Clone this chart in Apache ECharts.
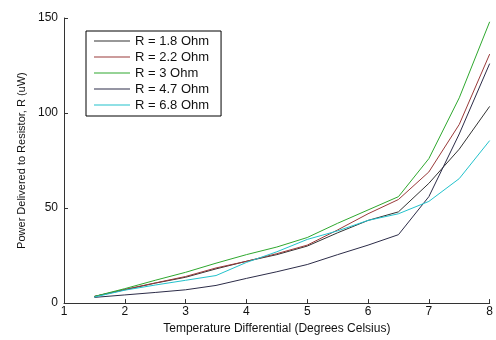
<!DOCTYPE html>
<html>
<head>
<meta charset="utf-8">
<script src="https://cdn.jsdelivr.net/npm/echarts@6/dist/echarts.min.js"></script>
<style>
  html, body { margin: 0; padding: 0; background: #fff; }
  #chart { width: 496px; height: 340px; }
</style>
</head>
<body>
<div id="chart"></div>
<script>
// temperature differential (deg C)
const temps = [1.5, 2, 2.5, 3, 3.5, 4, 4.5, 5, 5.5, 6, 6.5, 7, 7.5, 8];

// power delivered (uW) per load resistor
const r18 = [3.5, 7, 10.5, 13.6, 18, 22, 25.5, 30, 37, 43.5, 48, 63, 81, 103.5];
const r22 = [3.5, 7.2, 10.6, 14, 18.5, 22, 26, 30.5, 38.5, 47, 54.5, 69, 94, 131];
const r3 = [3.5, 7.6, 12, 16.2, 21, 25.5, 29.5, 34.5, 42, 49, 56, 76, 108, 148];
const r47 = [3, 4.3, 5.6, 7, 9.3, 13, 16.5, 20.3, 25.5, 30.5, 36, 56, 89, 126];
const r68 = [3.2, 6.8, 9.5, 12, 14.5, 21.4, 27, 33.5, 38, 43.5, 47, 53.5, 65.5, 85.5];

const seriesNames = ['R = 1.8 Ohm', 'R = 2.2 Ohm', 'R = 3 Ohm', 'R = 4.7 Ohm', 'R = 6.8 Ohm'];
const seriesValues = [r18, r22, r3, r47, r68];
const seriesColors = ['#333333', '#9a3a3a', '#2ea82e', '#2c2c48', '#22c2cc'];

const font = 'Liberation Sans, Arial, sans-serif';

const chart = echarts.init(document.getElementById('chart'));

const option = {
  animation: false,
  backgroundColor: '#fff',
  grid: {
    left: 64,
    right: 6,
    top: 18,
    bottom: 32,
  },
  legend: {
    orient: 'vertical',
    left: 86,
    top: 31,
    data: seriesNames,
    icon: 'rect',
    itemWidth: 36,
    itemHeight: 1,
    itemGap: 2,
    padding: [3, 12, 4, 8],
    borderColor: '#000',
    borderWidth: 1,
    backgroundColor: '#fff',
    textStyle: { fontFamily: font, fontSize: 13, color: '#111', lineHeight: 14 },
  },
  xAxis: {
    type: 'value',
    min: 1,
    max: 8,
    interval: 1,
    name: 'Temperature Differential (Degrees Celsius)',
    nameLocation: 'middle',
    nameGap: 17,
    nameTextStyle: { fontFamily: font, fontSize: 12, color: '#111' },
    axisLine: { onZero: false, lineStyle: { color: '#333', width: 1 } },
    axisTick: { inside: true, length: 4, lineStyle: { color: '#333' } },
    axisLabel: { margin: 3, fontFamily: font, fontSize: 12, color: '#111' },
    splitLine: { show: false },
  },
  yAxis: {
    type: 'value',
    min: 0,
    max: 150,
    interval: 50,
    name: 'Power Delivered to Resistor, R (uW)',
    nameLocation: 'middle',
    nameGap: 36,
    nameTextStyle: { fontFamily: font, fontSize: 11, color: '#111' },
    axisLine: { show: true, lineStyle: { color: '#333', width: 1 } },
    axisTick: { show: true, inside: true, length: 4, lineStyle: { color: '#333' } },
    axisLabel: { margin: 6, fontFamily: font, fontSize: 12, color: '#111' },
    splitLine: { show: false },
  },
  series: seriesNames.map((name, i) => ({
    name,
    type: 'line',
    symbol: 'none',
    data: temps.map((t, j) => [t, seriesValues[i][j]]),
    lineStyle: { color: seriesColors[i], width: 1 },
    itemStyle: { color: seriesColors[i] },
  })),
};

chart.setOption(option);
</script>
</body>
</html>
